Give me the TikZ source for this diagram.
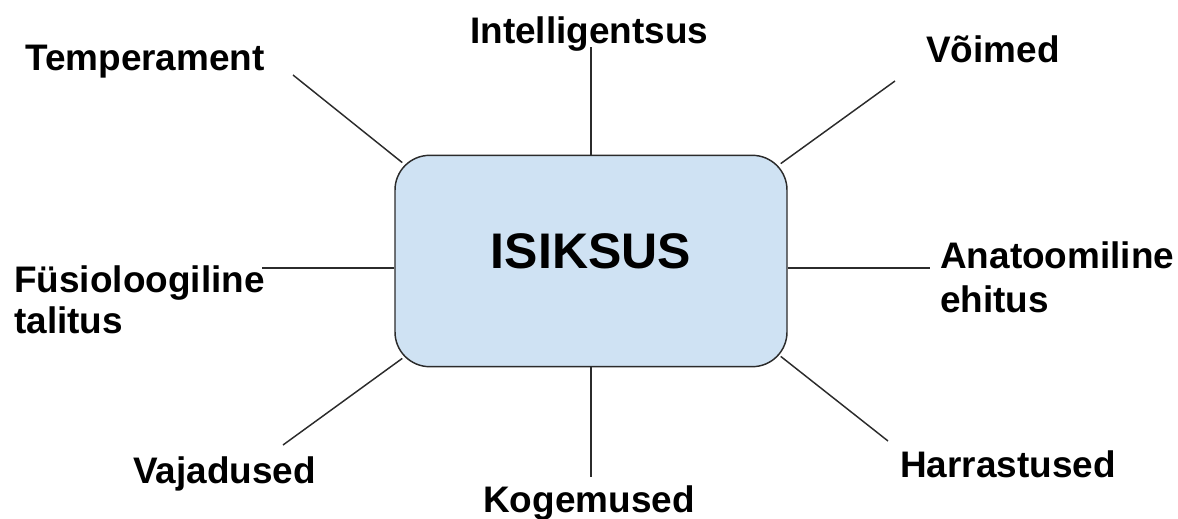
\documentclass[tikz,border=0pt]{standalone}
\usepackage{fontspec}
\setmainfont{Liberation Sans}
\usetikzlibrary{calc}
\definecolor{boxfill}{HTML}{CFE2F3}
\definecolor{linecol}{HTML}{2B2B2B}
\begin{document}
\begin{tikzpicture}[x=0.75pt,y=-0.75pt,
  lbl/.style={anchor=base west,inner sep=0pt,font=\fontsize{27.7}{33}\selectfont\bfseries},
  mainbox/.style={draw=linecol,line width=1.1pt,fill=boxfill,rounded corners=26pt,
    minimum width=294pt,minimum height=158.5pt,inner sep=0pt,
    font=\fontsize{37.5}{44}\selectfont\bfseries},
  conn/.style={draw=linecol,line width=1.1pt}]
\useasboundingbox (0,0) rectangle (1178,518);
\node[mainbox] (isik) at (591,261) {\raisebox{7pt}[\height][\depth]{ISIKSUS}};

\node[lbl] (temp) at (25,70) {Temperament};
\node[lbl] (intel) at (470,43) {Intelligentsus};
\node[lbl] (voim) at (926,62) {Võimed};
\node[lbl,align=left] (fys) at (14,333) {Füsioloogiline\\[-2.3pt]talitus};
\node[lbl,align=left] (anat) at (940,312) {Anatoomiline\\[0pt]ehitus};
\node[lbl] (vaj) at (133,483) {Vajadused};
\node[lbl] (koge) at (483,512) {Kogemused};
\node[lbl] (harr) at (900,477) {Harrastused};

\coordinate (cTemp) at (293,75);
\coordinate (cIntel) at (591,47);
\coordinate (cVoim) at (895,81);
\coordinate (cFys) at (262,268);
\coordinate (cAnat) at (930,268);
\coordinate (cVaj) at (283,445);
\coordinate (cKoge) at (591,477);
\coordinate (cHarr) at (888,441);

\draw[conn] ($(isik.north west)+(8,8)$) -- (cTemp);
\draw[conn] (isik.north) -- (cIntel);
\draw[conn] ($(isik.north east)+(-7,9)$) -- (cVoim);
\draw[conn] (isik.west |- cFys) -- (cFys);
\draw[conn] (isik.east |- cAnat) -- (cAnat);
\draw[conn] ($(isik.south west)+(8,-9)$) -- (cVaj);
\draw[conn] (isik.south) -- (cKoge);
\draw[conn] ($(isik.south east)+(-7,-11)$) -- (cHarr);
\end{tikzpicture}
\end{document}
